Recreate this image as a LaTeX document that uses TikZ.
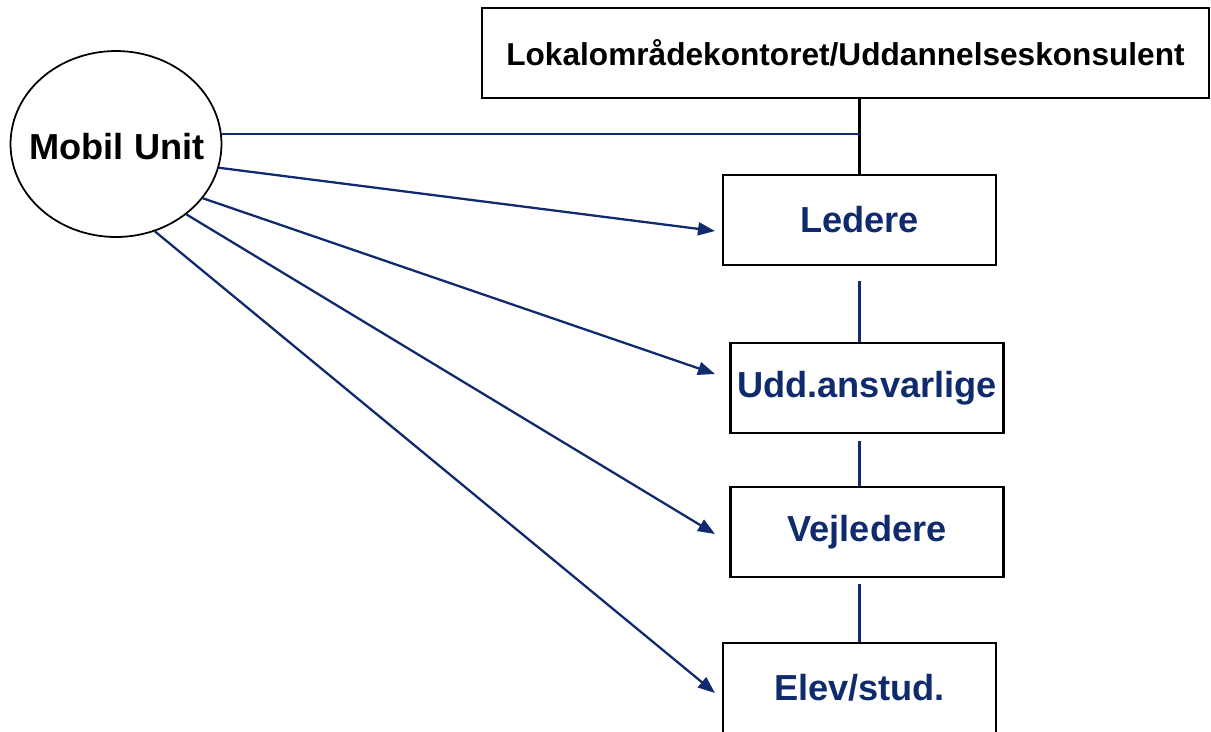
\documentclass[tikz,border=0pt]{standalone}
\usepackage{fontspec}
\setmainfont{Liberation Sans}
\usepackage{tikz}
\usetikzlibrary{arrows.meta,shapes.geometric}
\definecolor{navy}{RGB}{16,42,110}

\begin{document}
\begin{tikzpicture}
			[x=0.02cm,y=-0.02cm,
			 box/.style={draw=black,line width=1.3pt,minimum width=5.46cm,minimum height=1.8cm,font=\fontsize{20.6}{24}\selectfont\bfseries,text=navy},
			 ln/.style={draw=navy,line width=1.3pt},
			 arr/.style={ln,-{Triangle[length=3.4mm,width=2.6mm]}}]

			\useasboundingbox (0,0) rectangle (1211,731);

			\node[draw,line width=1.3pt,minimum width=14.54cm,minimum height=1.8cm,font=\fontsize{18}{22}\selectfont\bfseries] (lok) at (845.5,53) {Lokalområdekontoret/Uddannelseskonsulent};

			\node[ellipse,draw,line width=1pt,minimum width=4.22cm,minimum height=3.72cm] (mu) at (116,144) {};
			\node[font=\fontsize{20.6}{24}\selectfont\bfseries] (mut) at (117,147) {Mobil Unit};

			\node[box] (led) at (859.5,220) {Ledere};
			\node[box] (udd) at (867,388) {Udd.ansvarlige};
			\node[box] (vej) at (867,532) {Vejledere};
			\node[box] (elev) at (859.5,688) {Elev/stud.};

			% forbindelser
			\coordinate (j) at (859.5,134);
			\draw[line width=1.3pt] (lok.south -| led) -- (led.north);
			\draw[ln] (mu.east |- j) -- (j);
			\draw[ln,shorten <=0.3cm] (led.south) -- (udd.north -| led);
			\draw[ln,shorten <=0.14cm] (udd.south -| led) -- (vej.north -| led);
			\draw[ln,shorten <=0.12cm] (vej.south -| led) -- (elev.north);

			% pile
			\coordinate (t1) at (715,231);
			\coordinate (t2) at (715,374);
			\coordinate (t3) at (715,534);
			\coordinate (t4) at (715,693);
			\draw[arr] (mu.-13) -- (t1);
			\draw[arr] (mu.-32) -- (t2);
			\draw[arr] (mu.-45) -- (t3);
			\draw[arr] (mu.-66) -- (t4);

\end{tikzpicture}
\end{document}
